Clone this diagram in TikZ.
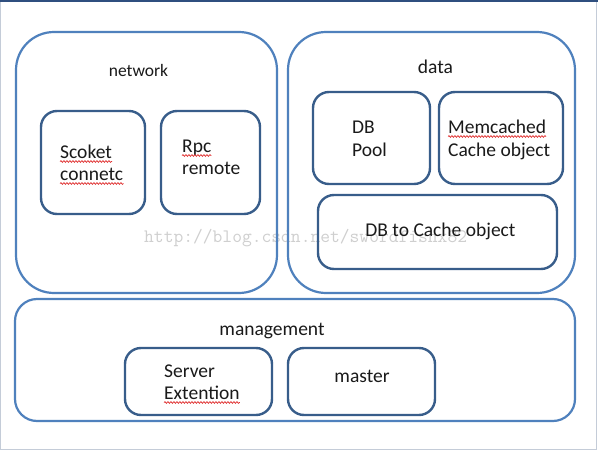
\documentclass[tikz,border=0pt]{standalone}
\usepackage{fontspec}
\setmainfont{Carlito}
\usetikzlibrary{calc,decorations.pathmorphing}
\definecolor{outerblue}{HTML}{4F81BD}
\definecolor{innerblue}{HTML}{385D8A}
\definecolor{txt}{HTML}{1A1A1A}
\definecolor{squigred}{HTML}{E03030}
\definecolor{framelight}{HTML}{C4CCD8}
\definecolor{framedark}{HTML}{2F4F7F}
\definecolor{wmgray}{HTML}{CFCFCF}
\tikzset{
  outerbox/.style={draw=outerblue, line width=2.2pt, rounded corners=38pt, inner sep=0pt, outer sep=0pt},
  mgmtbox/.style={outerbox, rounded corners=22pt},
  innerbox/.style={draw=innerblue, line width=2.4pt, rounded corners=16pt, inner sep=0pt, outer sep=0pt},
  lbl/.style={inner sep=0pt, text=txt, font=\fontsize{19.5}{22}\selectfont},
  ttl/.style={inner sep=0pt, text=txt, font=\fontsize{17.5}{20}\selectfont},
  squig/.style={draw=squigred, line width=0.7pt, decorate, decoration={snake, amplitude=0.9pt, segment length=3pt}},
  wmark/.style={inner sep=0pt, text=wmgray, font=\ttfamily\fontsize{19}{20}\selectfont},
}
\begin{document}
\begin{tikzpicture}[x=1pt,y=-1pt]
\useasboundingbox (0,0) rectangle (598,450);
\fill[white] (0,0) rectangle (598,450);
\draw[framelight, line width=1.2pt] (0.6,0.6) rectangle (596.8,449.4);
\draw[framedark, line width=1.6pt] (0,0.8) -- (598,0.8);

% watermark
\node[wmark, anchor=base west] (wm) at (144,242) {http://blog.csdn.net/swordfishx82};

% outer groups
\node[outerbox, minimum width=261pt, minimum height=261pt] (network) at (146.5,162.5) {};
\node[outerbox, minimum width=287pt, minimum height=261pt] (data) at (431.5,162.5) {};
\node[mgmtbox, minimum width=560pt, minimum height=122pt] (management) at (295,360) {};

% inner boxes
\node[innerbox, minimum width=104pt, minimum height=103pt] (scoketbox) at (93,162.5) {};
\node[innerbox, minimum width=99pt, minimum height=103pt] (rpcbox) at (210.5,162.5) {};
\node[innerbox, minimum width=117pt, minimum height=92pt] (dbpoolbox) at (371.5,138) {};
\node[innerbox, minimum width=124pt, minimum height=92pt] (memcbox) at (501,138) {};
\node[innerbox, minimum width=239pt, minimum height=74pt] (dbcachebox) at (437.5,232) {};
\node[innerbox, minimum width=147pt, minimum height=67pt] (serverbox) at (198.5,381.5) {};
\node[innerbox, minimum width=147pt, minimum height=67pt] (masterbox) at (361.5,381.5) {};

% titles
\node[ttl, anchor=base] (networkt) at (138.5,76) {network};
\node[lbl, anchor=base] (datat) at (435.5,73) {data};
\node[lbl, anchor=base] (managementt) at (272,335) {management};

% labels
\node[lbl, anchor=base west] (scoket) at (60,158) {Scoket};
\node[lbl, anchor=base west] (connetc) at (60,180) {connetc};
\node[lbl, anchor=base west] (rpc) at (182,152) {Rpc};
\node[lbl, anchor=base west] (remote) at (182,174) {remote};
\node[lbl, anchor=base west] (db) at (352,133) {DB};
\node[lbl, anchor=base west] (pool) at (352,156) {Pool};
\node[lbl, anchor=base west] (memcached) at (448,133) {Memcached};
\node[lbl, anchor=base west] (cacheobj) at (448,156) {Cache object};
\node[lbl, anchor=base] (dbtocache) at (440.5,236) {DB to Cache object};
\node[lbl, anchor=base west] (server) at (164,377) {Server};
\node[lbl, anchor=base west] (extention) at (164,399) {Extention};
\node[lbl, anchor=base] (master) at (362,382) {master};

% spell-check squiggles
\foreach \n in {scoket,connetc,rpc,memcached,extention}{
  \draw[squig] ($(\n.base west)+(0,3.5)$) -- ($(\n.base east)+(0,3.5)$);
}
\end{tikzpicture}
\end{document}
